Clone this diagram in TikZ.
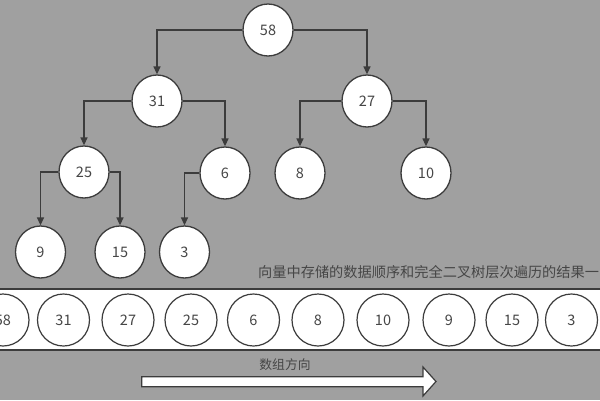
\documentclass[tikz,border=0pt]{standalone}
\usepackage{fontspec}
\setmainfont{Noto Sans CJK SC}
\usetikzlibrary{shapes.geometric,arrows.meta}
\definecolor{bg}{RGB}{160,160,160}
\definecolor{ln}{RGB}{60,60,60}
\definecolor{tx}{RGB}{70,70,70}
\begin{document}
\begin{tikzpicture}[x=1pt,y=-1pt,
  tnode/.style={ellipse,draw=ln,line width=1.3pt,fill=white,minimum width=50pt,minimum height=52pt,inner sep=0pt,text=tx,font=\fontsize{14.5}{16}\selectfont},
  anode/.style={ellipse,draw=ln,line width=1.2pt,fill=white,minimum width=52pt,minimum height=52pt,inner sep=0pt,text=tx,font=\fontsize{14.5}{16}\selectfont},
  edge/.style={draw=ln,line width=1.3pt,-{Triangle[length=8pt,width=7pt]}},
  lbl/.style={text=tx,inner sep=0pt}]
\useasboundingbox (0,0) rectangle (600,400);
\clip (0,0) rectangle (600,400);
\fill[bg] (0,0) rectangle (600,400);
% tree
\node[tnode] (t58) at (268,30) {58};
\node[tnode] (t31) at (157,101) {31};
\node[tnode] (t27) at (367,101) {27};
\node[tnode] (t25) at (84,172) {25};
\node[tnode] (t6) at (225,173) {6};
\node[tnode] (t8) at (300,173) {8};
\node[tnode] (t10) at (426,173) {10};
\node[tnode] (t9) at (40.5,252) {9};
\node[tnode] (t15) at (120,252) {15};
\node[tnode] (t3) at (184.5,252) {3};
\draw[edge] (t58.west) -| (t31.north);
\draw[edge] (t58.east) -| (t27.north);
\draw[edge] (t31.west) -| (t25.north);
\draw[edge] (t31.east) -| (t6.north);
\draw[edge] (t27.west) -| (t8.north);
\draw[edge] (t27.east) -| (t10.north);
\draw[edge] (t25.west) -| (t9.north);
\draw[edge] (t25.east) -| (t15.north);
\draw[edge] (t6.west) -| (t3.north);
% caption
\node[lbl,anchor=west,font=\fontsize{14.2}{16}\selectfont] (cap) at (258,272) {向量中存储的数据顺序和完全二叉树层次遍历的结果一};
% band
\node[draw=ln,line width=1.6pt,fill=white,minimum width=620pt,minimum height=61pt,inner sep=0pt] (band) at (300,319.5) {};
\node[anode] (a1) at (3,320) {58};
\node[anode] (a2) at (63.5,320) {31};
\node[anode] (a3) at (128,320) {27};
\node[anode] (a4) at (191,320) {25};
\node[anode] (a5) at (253.5,320) {6};
\node[anode] (a6) at (318,320) {8};
\node[anode] (a7) at (383,320) {10};
\node[anode] (a8) at (449,320) {9};
\node[anode] (a9) at (512,320) {15};
\node[anode] (a10) at (571.5,320) {3};
% direction arrow
\node[lbl,font=\fontsize{12.8}{14}\selectfont] (dir) at (285,365) {数组方向};
\draw[draw=ln,line width=1.2pt,fill=white,line join=miter] (141.7,376.7) -- (423,376.7) -- (423,367) -- (436,381.5) -- (423,396) -- (423,386.7) -- (141.7,386.7) -- cycle;
\end{tikzpicture}
\end{document}
